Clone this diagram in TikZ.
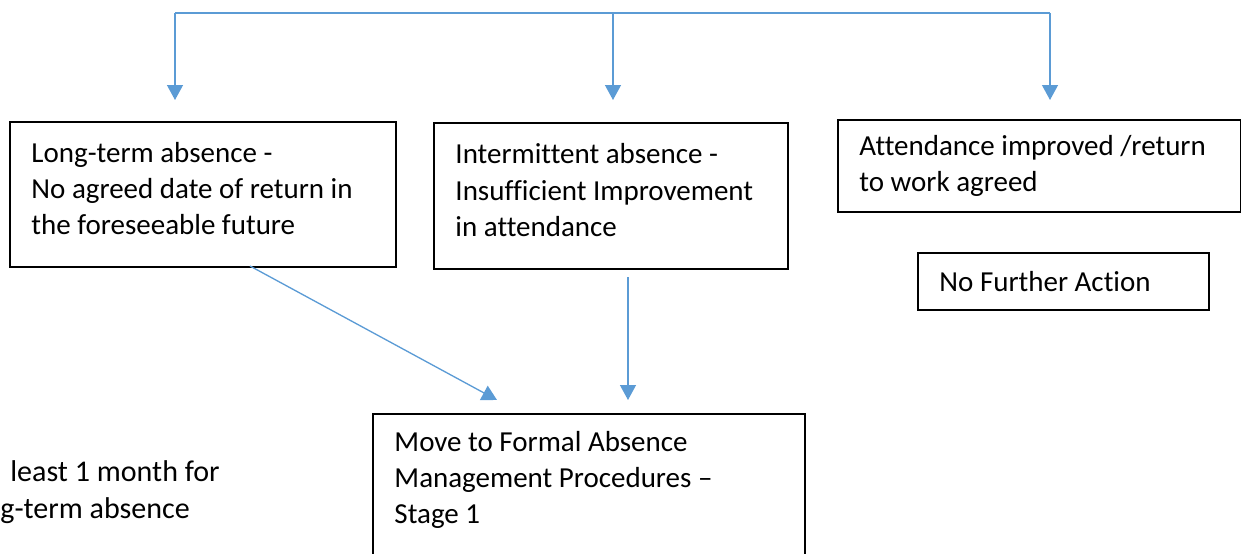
\documentclass[tikz,border=0pt]{standalone}
\usepackage{fontspec}
\setmainfont[Ligatures=NoCommon]{Carlito}
\usetikzlibrary{arrows.meta}
\definecolor{linkblue}{HTML}{5B9BD5}

\begin{document}
\begin{tikzpicture}
  [x=0.02cm,y=-0.02cm,
   every node/.style={font=\fontsize{16.5}{20.5}\selectfont},
   box/.style={draw,line width=1.1pt,anchor=north west,align=flush left,inner xsep=0.43cm},
   link/.style={draw=linkblue,line width=0.75pt,-{Triangle[width=0.32cm,length=0.3cm]}}]
  \clip (0,0) rectangle (1241,554);

  \node[box,text width=6.86cm,minimum height=2.9cm] (b1) at (9,121)
    {Long-term absence -\\No agreed date of return in\\the foreseeable future\rule[-0.24cm]{0pt}{0.24cm}};
  \node[box,text width=6.22cm,minimum height=2.92cm] (b2) at (433,122)
    {Intermittent absence -\\Insufficient Improvement\\in attendance\rule[-0.24cm]{0pt}{0.24cm}};
  \node[box,text width=7.2cm,minimum height=1.84cm] (b3) at (837,119)
    {Attendance improved /return\\to work agreed};
  \node[box,text width=4.96cm,minimum height=1.14cm] (b4) at (917,252)
    {No Further Action};
  \node[box,text width=7.78cm,inner ysep=0.34cm] (b5) at (372,413)
    {Move to Formal Absence\\Management Procedures –\\Stage 1\rule[-1.5cm]{0pt}{1.5cm}};
  \node[anchor=north west,align=flush left,inner sep=0pt,
        font=\fontsize{17.1}{21}\selectfont] (note) at (0,460)
    {\hspace*{0.2cm}least 1 month for\\g-term absence};

  \coordinate (c1) at (175,13);
  \coordinate (c2) at (613,13);
  \coordinate (c3) at (1050,13);
  \coordinate (a1) at (175,100);
  \coordinate (a2) at (613,100);
  \coordinate (a3) at (1050,100);
  \coordinate (d1) at (250,266);
  \coordinate (e1) at (497,400);
  \coordinate (d2) at (628,277);
  \coordinate (e2) at (628,400);

  \draw[linkblue,line width=0.75pt] (c1) -- (c3);
  \foreach \from/\to in {c1/a1,c2/a2,c3/a3,d1/e1,d2/e2}
    \draw[link] (\from) -- (\to);

\end{tikzpicture}
\end{document}
